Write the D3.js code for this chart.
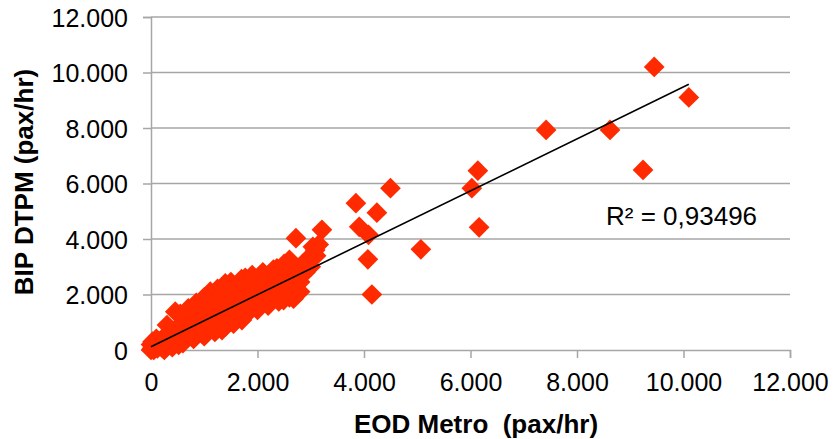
<!DOCTYPE html>
<html>
<head>
<meta charset="utf-8">
<script src="https://cdn.jsdelivr.net/npm/d3@7"></script>
<style>
    body { margin: 0; background: #fff; }
    svg text { font-family: "Liberation Sans", Arial, Helvetica, sans-serif; fill: #000; }
</style>
</head>
<body>
<svg id="chart"></svg>
<script>
// EOD Metro (x) vs BIP DTPM (y), pax/hr
const eodMetro = [
    0, 20, 40, 60, 80, 100, 120, 150, 170, 200, 220, 250, 270, 300, 320, 350, 380, 400, 420, 456,
    470, 500, 520, 540, 560, 600, 620, 650, 680, 700, 720, 750, 780, 800, 820, 850, 880, 900, 930, 957,
    980, 1000, 1020, 1050, 1080, 1113, 1130, 1150, 1180, 1200, 1230, 1260, 1280, 1300, 1333, 1350, 1380, 1395, 1420, 1450,
    1480, 1500, 1530, 1560, 1580, 1600, 1630, 1660, 1677, 1690, 1708, 1730, 1770, 1780, 1800, 1830, 1860, 1890, 1920, 1950,
    1980, 2000, 2030, 2060, 2100, 2130, 2160, 2200, 2230, 2270, 2300, 2340, 2365, 2400, 2430, 2460, 2490, 2500, 2550, 2600,
    2640, 2677, 2700, 2722, 2750, 2800, 2850, 2900, 2950, 3000, 3040, 3084, 3100, 3150, 3210,
    0, 30, 50, 100, 250, 300, 400, 550, 600, 700, 800, 850, 1000, 1000, 1200, 1250, 1400, 1500, 1550, 1700,
    1800, 1900, 2000, 2100, 2200, 2300, 2400, 2500, 2600, 2600, 2800,
    3848, 3910, 4085, 4073, 4148, 4242, 4497, 5068, 6025, 6138, 6162, 7420, 8620, 9240, 9450, 10100
];
const bipDtpm = [
    0, 50, 120, 30, 200, 150, 60, 300, 220, 100, 420, 280, 150, 500, 350, 200, 600, 450, 300, 1380,
    700, 550, 180, 900, 750, 1000, 600, 850, 1150, 500, 950, 700, 1200, 850, 1000, 1300, 750, 1100, 1450, 600,
    900, 1200, 1600, 1000, 1350, 2100, 800, 1500, 1150, 1800, 1300, 1000, 1650, 1950, 720, 1400, 1200, 2400, 1750, 1500,
    2000, 1300, 1650, 2200, 1450, 1900, 1150, 2300, 1200, 1700, 1080, 2000, 2600, 1500, 2200, 1800, 2350, 1600, 2100, 1900,
    2450, 1700, 2200, 2000, 2300, 1750, 2550, 2100, 1950, 2400, 2200, 2650, 2944, 2300, 2100, 2700, 1800, 2500, 2850, 2300,
    3000, 1850, 2600, 4030, 2900, 2450, 3100, 2800, 3300, 3000, 3720, 3600, 3400, 3800, 4330,
    200, 300, 0, 400, 0, 900, 100, 1300, 250, 1500, 400, 1700, 500, 1900, 650, 2200, 850, 2450, 950, 2550,
    1300, 2700, 1450, 2800, 1600, 2900, 1750, 3100, 1900, 3250, 2100,
    5290, 4440, 4150, 3270, 2000, 4950, 5830, 3630, 5830, 6460, 4420, 7930, 7930, 6490, 10200, 9100
];

const xTicks = [0, 2000, 4000, 6000, 8000, 10000, 12000];
const yTicks = [0, 2000, 4000, 6000, 8000, 10000, 12000];

// linear trend as drawn in the picture
const trendSlope = 0.936;
const trendIntercept = 120;
const trendLabel = 'R² = 0,93496';

const xTitle = 'EOD Metro  (pax/hr)';
const yTitle = 'BIP DTPM (pax/hr)';

const width = 836, height = 439;
const margin = {top: 17, right: 46, bottom: 89, left: 151};

const svg = d3.select('#chart')
    .attr('width', width)
    .attr('height', height);

const x = d3.scaleLinear().domain([0, 12000]).range([margin.left, width - margin.right]);
const y = d3.scaleLinear().domain([0, 12000]).range([height - margin.bottom, margin.top]);

const locale = d3.formatLocale({decimal: ',', thousands: '.', grouping: [3], currency: ['', '']});
const fmt = locale.format(',');

const gridColor = '#a6a6a6';

// horizontal gridlines
svg.append('g')
    .selectAll('line')
    .data(yTicks.filter(d => d > 0))
    .enter()
    .append('line')
    .attr('x1', x(0))
    .attr('x2', x(12000))
    .attr('y1', d => y(d))
    .attr('y2', d => y(d))
    .style('stroke', gridColor)
    .style('stroke-width', 1.5);

// y axis
const yAxis = svg.append('g')
    .attr('transform', `translate(${x(0)},0)`)
    .call(d3.axisLeft(y).tickValues(yTicks).tickSize(8).tickPadding(15).tickFormat(fmt));

// x axis
const xAxis = svg.append('g')
    .attr('transform', `translate(0,${y(0)})`)
    .call(d3.axisBottom(x).tickValues(xTicks).tickSize(8).tickPadding(15).tickFormat(fmt));

[xAxis, yAxis].forEach(ax => {
    ax.select('.domain').style('stroke', gridColor).style('stroke-width', 1.5);
    ax.selectAll('.tick line').style('stroke', gridColor).style('stroke-width', 1.5);
    ax.selectAll('.tick text')
        .style('font-size', '25px')
        .style('font-family', '"Liberation Sans", Arial, sans-serif')
        .style('fill', '#000');
});
yAxis.selectAll('.tick text').attr('dy', '0.36em');
xAxis.selectAll('.tick text').attr('dy', '0.72em');

// points
const diamond = d3.symbol().type(d3.symbolSquare).size(215);
svg.append('g')
    .attr('class', 'points')
    .selectAll('path')
    .data(eodMetro.map((d, i) => [d, bipDtpm[i]]))
    .enter()
    .append('path')
    .attr('d', diamond)
    .attr('transform', d => `translate(${x(d[0])},${y(d[1])}) rotate(45)`)
    .style('fill', '#ff2a00');

// trend line
const xMin = d3.min(eodMetro), xMax = d3.max(eodMetro);
svg.append('line')
    .attr('x1', x(xMin))
    .attr('y1', y(trendIntercept + trendSlope * xMin))
    .attr('x2', x(xMax))
    .attr('y2', y(trendIntercept + trendSlope * xMax))
    .style('stroke', '#000')
    .style('stroke-width', 1.6);

svg.append('text')
    .attr('x', 606)
    .attr('y', 225)
    .style('font-size', '26px')
    .text(trendLabel);

// axis titles
svg.append('text')
    .attr('x', 476)
    .attr('y', 433)
    .attr('text-anchor', 'middle')
    .attr('xml:space', 'preserve')
    .style('white-space', 'pre')
    .style('font-size', '26px')
    .style('font-weight', 'bold')
    .text(xTitle);

svg.append('text')
    .attr('transform', 'translate(33,182) rotate(-90)')
    .attr('text-anchor', 'middle')
    .style('font-size', '26px')
    .style('font-weight', 'bold')
    .text(yTitle);
</script>
</body>
</html>
